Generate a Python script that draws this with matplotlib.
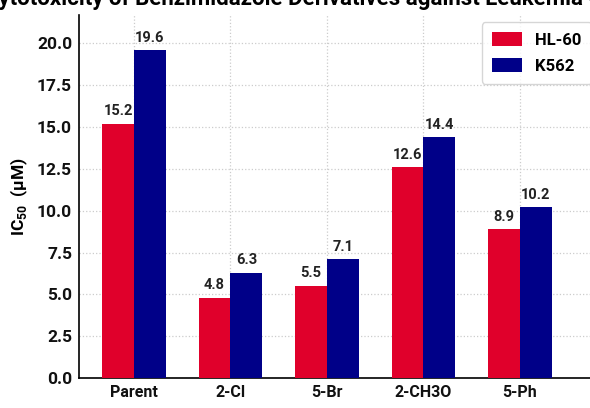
import matplotlib
matplotlib.use("Agg")
import matplotlib.pyplot as plt
import numpy as np

categories = ["Parent", "2-Cl", "5-Br", "2-CH3O", "5-Ph"]
hl60 = [15.2, 4.8, 5.5, 12.6, 8.9]
k562 = [19.6, 6.3, 7.1, 14.4, 10.2]
series_names = ["HL-60", "K562"]
yticks = [0.0, 2.5, 5.0, 7.5, 10.0, 12.5, 15.0, 17.5, 20.0]
title = "Cytotoxicity of Benzimidazole Derivatives against Leukemia Cell Lines"

FONT = ["Roboto", "DejaVu Sans"]
plt.rcParams["font.family"] = FONT
plt.rcParams["mathtext.fontset"] = "custom"
plt.rcParams["mathtext.rm"] = "Roboto"
plt.rcParams["mathtext.bf"] = "Roboto:bold"

red = "#E0002B"
blue = "#000088"

fig = plt.figure(figsize=(5.9, 4.08), dpi=100)
W, H = 590, 408
ax = fig.add_axes([79 / W, 1 - 378 / H, (602 - 79) / W, (378 - 15) / H])

x = np.arange(len(categories))
w = 0.33
b1 = ax.bar(x - w / 2, hl60, w, color=red, label=series_names[0], zorder=3)
b2 = ax.bar(x + w / 2, k562, w, color=blue, label=series_names[1], zorder=3)

for bars in (b1, b2):
    for r in bars:
        ax.annotate(f"{r.get_height():.1f}", (r.get_x() + r.get_width() / 2, r.get_height()),
                    xytext=(0, 4), textcoords="offset points", ha="center", va="bottom",
                    fontsize=10.5, fontweight="bold", color="#222222")

ax.set_xlim(-0.57, 4.85)
ax.set_ylim(0, 21.7)
ax.set_xticks(x)
ax.set_xticklabels(categories, fontsize=11.5, fontweight="bold")
ax.set_yticks(yticks)
ax.set_yticklabels([f"{v:.1f}" for v in yticks], fontsize=12.5, fontweight="bold")
ax.tick_params(axis="both", length=0, pad=5, colors="#111111")
ax.set_ylabel(r"IC$_{\mathregular{50}}$  (μM)", fontsize=12.5, fontweight="bold")
ax.yaxis.set_label_coords(-49 / 523, 0.5)

ax.grid(True, linestyle=":", color="#cccccc", linewidth=0.9, zorder=0)
ax.set_axisbelow(True)
for s in ("top", "right"):
    ax.spines[s].set_visible(False)
ax.spines["left"].set_linewidth(1.2)
ax.spines["bottom"].set_linewidth(1.2)

leg = ax.legend(loc="upper right", bbox_to_anchor=(600 / W, 1 - 14 / H), bbox_transform=fig.transFigure,
                prop={"family": FONT, "weight": "bold", "size": 12}, frameon=True,
                handlelength=1.8, handleheight=0.9, borderpad=0.6, labelspacing=0.6)
leg.get_frame().set_edgecolor("#cccccc")

fig.text(335 / W, 1 - 5 / H, title, ha="center", va="baseline", fontsize=16, fontweight="bold")

fig.savefig("out.png", dpi=100)
